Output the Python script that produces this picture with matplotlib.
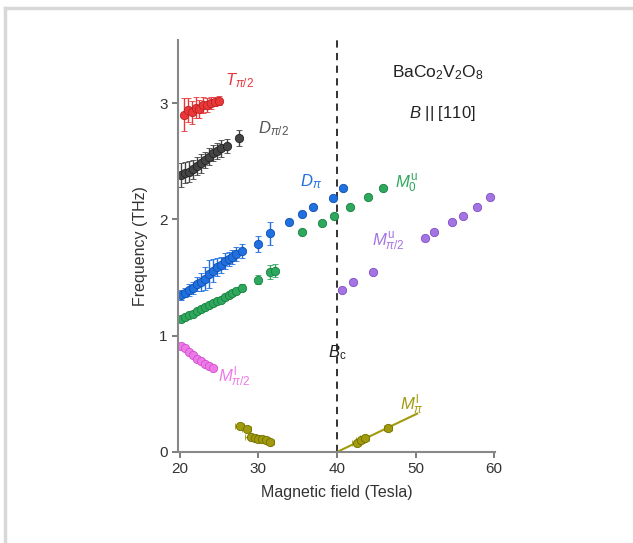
import matplotlib
matplotlib.use("Agg")
from matplotlib import pyplot as plt
from matplotlib.lines import Line2D

plt.rcParams['font.family'] = ['Liberation Sans', 'DejaVu Sans']
plt.rcParams['mathtext.fontset'] = 'custom'
plt.rcParams['mathtext.rm'] = 'Liberation Sans'
plt.rcParams['mathtext.it'] = 'Liberation Sans:italic'
plt.rcParams['mathtext.bf'] = 'Liberation Sans:bold'

# T_pi/2 (red)
t_x = [20.5, 21.0, 21.5, 22.0, 22.5, 23.0, 23.5, 24.0, 24.5, 25.0]
t_y = [2.90, 2.94, 2.92, 2.96, 2.95, 2.98, 2.98, 3.00, 3.01, 3.02]
t_e = [0.14, 0.10, 0.10, 0.09, 0.08, 0.07, 0.06, 0.05, 0.04, 0.04]

# D_pi/2 (dark gray)
dh_x = [20.2, 20.7, 21.2, 21.7, 22.2, 22.7, 23.2, 23.7, 24.2, 24.7, 25.2, 26.0, 27.5]
dh_y = [2.38, 2.40, 2.41, 2.43, 2.46, 2.48, 2.51, 2.54, 2.57, 2.59, 2.61, 2.63, 2.70]
dh_e = [0.10, 0.09, 0.09, 0.08, 0.08, 0.08, 0.07, 0.07, 0.07, 0.07, 0.07, 0.06, 0.07]

# D_pi (blue)
dp_x = [20.2, 20.7, 21.2, 21.7, 22.2, 22.7, 23.2, 23.7, 24.2, 24.7, 25.2, 25.7, 26.2,
        26.7, 27.2, 27.9, 29.9, 31.5, 33.9, 35.5, 37.0, 39.5, 40.7]
dp_y = [1.35, 1.37, 1.39, 1.41, 1.44, 1.46, 1.49, 1.53, 1.56, 1.59, 1.61, 1.64, 1.66,
        1.68, 1.70, 1.73, 1.79, 1.88, 1.98, 2.05, 2.11, 2.18, 2.27]
dp_e = [0.04, 0.04, 0.05, 0.05, 0.06, 0.08, 0.10, 0.12, 0.10, 0.08, 0.07, 0.07, 0.06,
        0.06, 0.06, 0.06, 0.07, 0.10, 0.00, 0.00, 0.00, 0.00, 0.00]

# M_0^u (green)
g_x = [20.2, 20.7, 21.2, 21.7, 22.2, 22.7, 23.2, 23.7, 24.2, 24.7, 25.2, 25.7, 26.2,
       26.7, 27.2, 27.9, 29.9, 31.5, 32.1, 35.6, 38.1, 39.6, 41.6, 44.0, 45.8]
g_y = [1.14, 1.16, 1.18, 1.19, 1.21, 1.23, 1.25, 1.26, 1.28, 1.30, 1.31, 1.33, 1.35,
       1.37, 1.38, 1.41, 1.48, 1.55, 1.56, 1.89, 1.97, 2.03, 2.11, 2.19, 2.27]
g_e = [0.02, 0.02, 0.02, 0.02, 0.02, 0.02, 0.02, 0.02, 0.02, 0.02, 0.02, 0.02, 0.02,
       0.02, 0.02, 0.03, 0.04, 0.06, 0.06, 0.00, 0.00, 0.00, 0.00, 0.00, 0.00]

# M_pi/2^u (purple)
pu_x = [40.6, 42.0, 44.6, 51.2, 52.4, 54.6, 56.0, 57.8, 59.4]
pu_y = [1.39, 1.46, 1.55, 1.84, 1.89, 1.98, 2.03, 2.11, 2.19]

# M_pi/2^l (pink)
pl_x = [20.2, 20.7, 21.2, 21.7, 22.2, 22.7, 23.2, 23.7, 24.2]
pl_y = [0.91, 0.89, 0.86, 0.83, 0.80, 0.78, 0.76, 0.74, 0.72]

# M_pi^l (olive)
o_x = [27.6, 28.5, 29.0, 29.5, 30.0, 30.5, 31.0, 31.5, 42.5, 43.0, 43.5, 46.5]
o_y = [0.22, 0.20, 0.13, 0.12, 0.11, 0.11, 0.10, 0.09, 0.08, 0.10, 0.12, 0.21]
o_e = [0.6, 0.6, 0.7, 0.6, 0.6, 0.6, 0.5, 0.5, 0.6, 0.6, 0.6, 0.5]
o_line_x = [40.0, 50.2]
o_line_y = [0.0, 0.33]

c_red = '#e8383a'
c_dark = '#444444'
c_blue = '#2070e0'
c_green = '#2ea85c'
c_purple = '#a474e4'
c_pink = '#ee7ae8'
c_olive = '#a09a0c'

fig = plt.figure(figsize=(6.33, 5.43), dpi=100)
ax = fig.add_axes([0.281, 0.1676, 0.501, 0.7584])

ms = 6
kw = dict(fmt='o', ms=ms, capsize=2.5, elinewidth=1.0, capthick=1.0, mew=0.6)

ax.plot(o_line_x, o_line_y, color=c_olive, lw=1.5, zorder=2)

ax.errorbar(t_x, t_y, yerr=t_e, color=c_red, mec='#c02020', **kw)
ax.errorbar(dh_x, dh_y, yerr=dh_e, color=c_dark, mec='#222222', **kw)
ax.errorbar(dp_x, dp_y, yerr=dp_e, color=c_blue, mec='#1050b0', **kw)
ax.errorbar(g_x, g_y, yerr=g_e, color=c_green, mec='#1a8040', **kw)
ax.plot(pu_x, pu_y, 'o', ms=ms, color=c_purple, mec='#8050c0', mew=0.6)
ax.plot(pl_x, pl_y, 'o', ms=ms, color=c_pink, mec='#d050d0', mew=0.6)
ax.errorbar(o_x, o_y, xerr=o_e, color=c_olive, mec='#707000', **kw)

ax.axvline(40, color='#222222', lw=1.3, ls=(0, (4, 3)), zorder=1)

ax.text(25.7, 3.15, r'$T_{\pi/2}$', color=c_red, fontsize=12)
ax.text(29.9, 2.74, r'$D_{\pi/2}$', color='#555555', fontsize=12)
ax.text(35.3, 2.28, r'$D_{\pi}$', color=c_blue, fontsize=12)
ax.text(47.4, 2.27, r'$M_0^{\rm u}$', color=c_green, fontsize=12)
ax.text(44.5, 1.77, r'$M_{\pi/2}^{\rm u}$', color=c_purple, fontsize=12)
ax.text(24.8, 0.60, r'$M_{\pi/2}^{\rm l}$', color=c_pink, fontsize=12)
ax.text(48.0, 0.36, r'$M_{\pi}^{\rm l}$', color=c_olive, fontsize=12)
ax.text(38.85, 0.81, r'$B_{\rm c}$', color='#222222', fontsize=12)
ax.text(52.8, 3.22, r'BaCo$_2$V$_2$O$_8$', color='#222222', fontsize=12.5, ha='center')
ax.text(53.4, 2.87, r'$B$ || [110]', color='#222222', fontsize=12, ha='center')

ax.set_xlim(19.75, 60.1)
ax.set_ylim(0, 3.54)
ax.set_xticks([20, 30, 40, 50, 60])
ax.set_yticks([0, 1, 2, 3])
for s in ['top', 'right']:
    ax.spines[s].set_visible(False)
for s in ['left', 'bottom']:
    ax.spines[s].set_color('#888888')
    ax.spines[s].set_linewidth(1.5)
ax.tick_params(direction='out', length=4, width=1.2, color='#666666',
               labelsize=11, labelcolor='#333333')
ax.set_xlabel('Magnetic field (Tesla)', fontsize=11.5, color='#333333', labelpad=6)
ax.set_ylabel('Frequency (THz)', fontsize=11.5, color='#333333', labelpad=8)

# light frame around the picture
fig.add_artist(Line2D([5 / 633, 1], [1 - 8 / 543, 1 - 8 / 543], color='#d8d8d8', lw=2.5))
fig.add_artist(Line2D([5 / 633, 5 / 633], [0, 1 - 8 / 543], color='#d8d8d8', lw=2.5))

fig.savefig('out.png', dpi=100)
